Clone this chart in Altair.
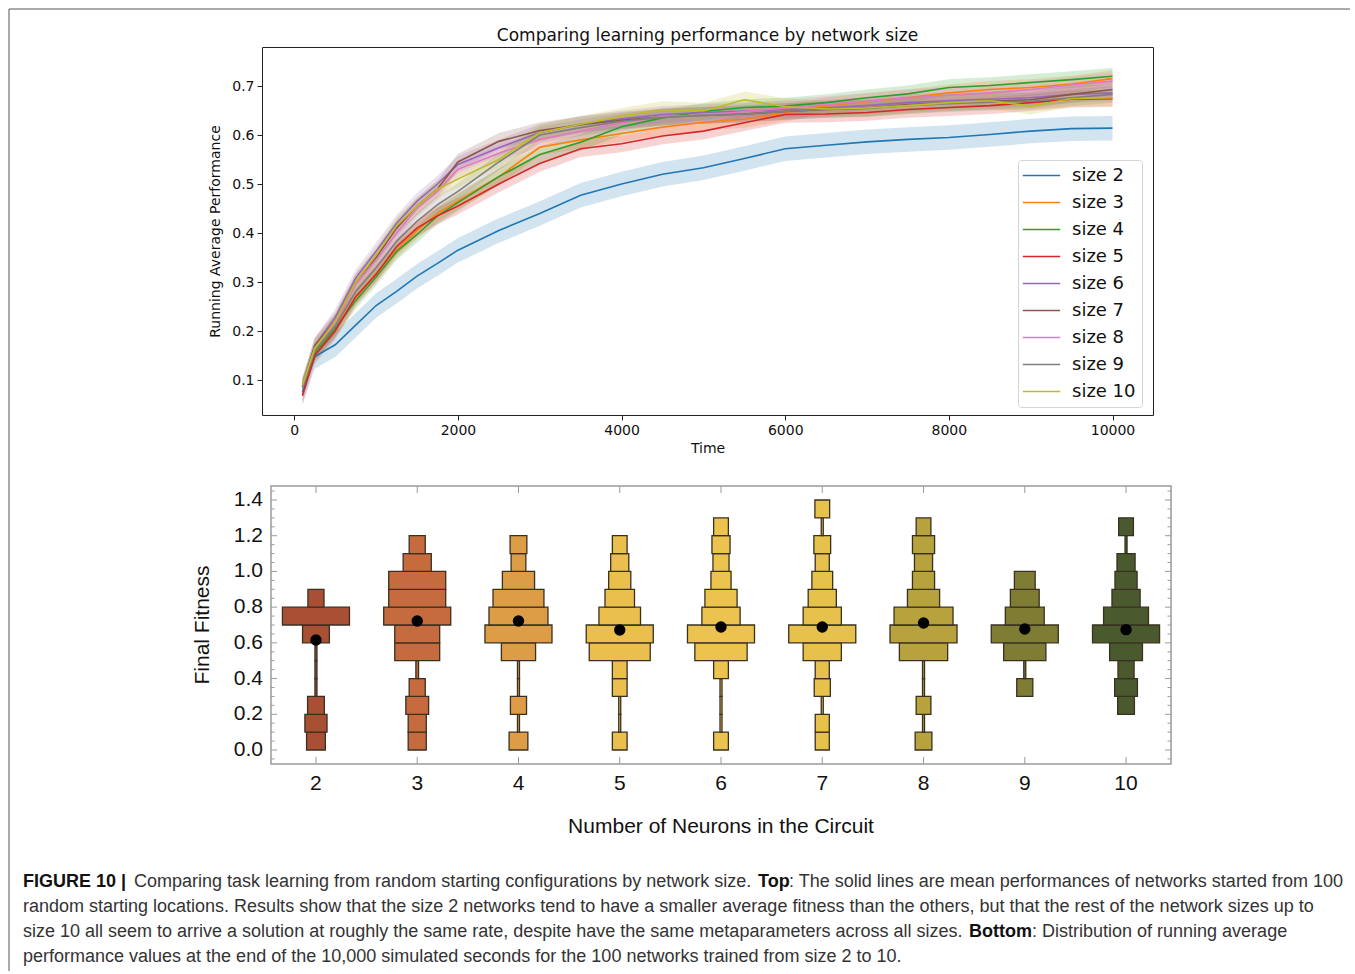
import altair as alt
import pandas as pd

# ---------------------------------------------------------------------------
# Top panel: running average performance (mean of 100 runs) per network size
# ---------------------------------------------------------------------------
times = [100, 250, 500, 750, 1000, 1250, 1500, 1750, 2000, 2500, 3000, 3500,
         4000, 4500, 5000, 5500, 6000, 6500, 7000, 7500, 8000, 8500, 9000, 9500, 10000]

perf_size2 = [0.075, 0.148, 0.172, 0.212, 0.252, 0.281, 0.312, 0.338, 0.365, 0.405, 0.440, 0.477,
              0.500, 0.520, 0.533, 0.552, 0.572, 0.579, 0.586, 0.591, 0.595, 0.601, 0.608, 0.613, 0.614]
perf_size3 = [0.085, 0.158, 0.205, 0.268, 0.318, 0.365, 0.405, 0.440, 0.465, 0.515, 0.575, 0.590,
              0.603, 0.616, 0.626, 0.632, 0.645, 0.660, 0.668, 0.676, 0.686, 0.693, 0.697, 0.704, 0.715]
perf_size4 = [0.085, 0.155, 0.205, 0.262, 0.310, 0.362, 0.397, 0.435, 0.462, 0.515, 0.560, 0.585,
              0.617, 0.635, 0.648, 0.656, 0.659, 0.666, 0.676, 0.684, 0.697, 0.701, 0.707, 0.713, 0.720]
perf_size5 = [0.068, 0.150, 0.200, 0.270, 0.316, 0.372, 0.410, 0.435, 0.455, 0.500, 0.542, 0.572,
              0.582, 0.598, 0.608, 0.625, 0.642, 0.643, 0.646, 0.652, 0.656, 0.660, 0.666, 0.673, 0.674]
perf_size6 = [0.090, 0.170, 0.228, 0.308, 0.363, 0.420, 0.465, 0.500, 0.540, 0.574, 0.605, 0.622,
              0.633, 0.642, 0.646, 0.649, 0.652, 0.655, 0.660, 0.666, 0.670, 0.673, 0.676, 0.683, 0.686]
perf_size7 = [0.085, 0.170, 0.220, 0.300, 0.350, 0.410, 0.455, 0.490, 0.545, 0.587, 0.609, 0.621,
              0.630, 0.637, 0.640, 0.643, 0.648, 0.652, 0.655, 0.662, 0.666, 0.669, 0.672, 0.683, 0.693]
perf_size8 = [0.085, 0.165, 0.215, 0.295, 0.345, 0.400, 0.450, 0.485, 0.530, 0.563, 0.591, 0.608,
              0.625, 0.638, 0.640, 0.648, 0.655, 0.662, 0.669, 0.676, 0.681, 0.686, 0.693, 0.702, 0.710]
perf_size9 = [0.085, 0.160, 0.210, 0.280, 0.329, 0.383, 0.424, 0.458, 0.485, 0.545, 0.600, 0.615,
              0.628, 0.636, 0.640, 0.643, 0.648, 0.652, 0.654, 0.660, 0.664, 0.667, 0.669, 0.676, 0.683]
perf_size10 = [0.090, 0.165, 0.220, 0.300, 0.355, 0.415, 0.455, 0.490, 0.510, 0.550, 0.605, 0.622,
               0.638, 0.652, 0.649, 0.672, 0.658, 0.653, 0.655, 0.660, 0.666, 0.670, 0.659, 0.674, 0.676]

series_names = ["size 2", "size 3", "size 4", "size 5", "size 6",
                "size 7", "size 8", "size 9", "size 10"]
series_values = [perf_size2, perf_size3, perf_size4, perf_size5, perf_size6,
                 perf_size7, perf_size8, perf_size9, perf_size10]
# spread of the runs around each mean curve (half-width of the shaded band)
band_half = [0.025, 0.017, 0.017, 0.017, 0.017, 0.017, 0.017, 0.017, 0.017]

line_colors = ["#1f77b4", "#ff7f0e", "#2ca02c", "#d62728", "#9467bd",
               "#8c564b", "#e377c2", "#7f7f7f", "#bcbd22"]

rows = []
for name, vals, hw in zip(series_names, series_values, band_half):
    for t, v in zip(times, vals):
        rows.append({"series": name, "time": t, "mean": v, "lo": v - hw, "hi": v + hw})
curves = pd.DataFrame(rows)

# ---------------------------------------------------------------------------
# Bottom panel: distribution of final fitness, binned in steps of 0.1
# (relative box width per bin, bins start at 0.0, 0.1, ..., 1.3)
# ---------------------------------------------------------------------------
bin_lows = [0.0, 0.1, 0.2, 0.3, 0.4, 0.5, 0.6, 0.7, 0.8, 0.9, 1.0, 1.1, 1.2, 1.3]
neuron_counts = [2, 3, 4, 5, 6, 7, 8, 9, 10]
bin_width_2 = [0.28, 0.33, 0.25, 0.03, 0.03, 0.03, 0.40, 1.00, 0.24, 0, 0, 0, 0, 0]
bin_width_3 = [0.27, 0.27, 0.34, 0.24, 0.04, 0.67, 0.67, 1.00, 0.85, 0.85, 0.42, 0.24, 0, 0]
bin_width_4 = [0.28, 0.03, 0.24, 0.03, 0.03, 0.51, 1.00, 0.88, 0.76, 0.48, 0.22, 0.25, 0, 0]
bin_width_5 = [0.22, 0.03, 0.03, 0.22, 0.22, 0.91, 1.00, 0.62, 0.44, 0.33, 0.27, 0.22, 0, 0]
bin_width_6 = [0.22, 0.03, 0.03, 0.03, 0.22, 0.78, 1.00, 0.57, 0.48, 0.30, 0.24, 0.27, 0.22, 0]
bin_width_7 = [0.21, 0.21, 0.03, 0.24, 0.21, 0.57, 1.00, 0.57, 0.42, 0.31, 0.21, 0.25, 0.03, 0.22]
bin_width_8 = [0.25, 0.03, 0.22, 0.03, 0.03, 0.72, 1.00, 0.88, 0.48, 0.33, 0.27, 0.33, 0.22, 0]
bin_width_9 = [0, 0, 0, 0.24, 0.03, 0.63, 1.00, 0.58, 0.43, 0.31, 0, 0, 0, 0]
bin_width_10 = [0, 0, 0.25, 0.34, 0.24, 0.49, 1.00, 0.67, 0.42, 0.33, 0.27, 0.03, 0.22, 0]
bin_widths = [bin_width_2, bin_width_3, bin_width_4, bin_width_5, bin_width_6,
              bin_width_7, bin_width_8, bin_width_9, bin_width_10]
mean_fitness = [0.616, 0.722, 0.722, 0.672, 0.689, 0.689, 0.711, 0.678, 0.674]

box_colors = ["#a94f33", "#c56b3d", "#dd9d46", "#eabf4d", "#ecc34f",
              "#e6c14c", "#b8a23e", "#7f7c34", "#4b5a2e"]

HALF = 0.331  # half width (in category units) of the widest box
box_rows = []
for n, widths in zip(neuron_counts, bin_widths):
    for low, w in zip(bin_lows, widths):
        if w > 0:
            box_rows.append({"n": n, "low": low, "high": round(low + 0.1, 2),
                             "x0": n - w * HALF, "x1": n + w * HALF})
boxes = pd.DataFrame(box_rows)
means = pd.DataFrame({"n": neuron_counts, "fitness": mean_fitness})

major_y = [0.0, 0.2, 0.4, 0.6, 0.8, 1.0, 1.2, 1.4]
minor_y = [round(-0.05 + 0.05 * i, 2) for i in range(31)]
minor_y = [v for v in minor_y if round(v * 5, 6) != round(v * 5)]
major_df = pd.DataFrame({"v": major_y, "label": [f"{v:.1f}" for v in major_y]})
minor_df = pd.DataFrame({"v": minor_y})
cat_df = pd.DataFrame({"n": neuron_counts, "label": [str(n) for n in neuron_counts]})
one = pd.DataFrame({"k": [0]})

# ---------------------------------------------------------------------------
# Top panel
# ---------------------------------------------------------------------------
TOP_W, TOP_H = 891, 368
MPL_FONT = "DejaVu Sans"

x_top_scale = alt.Scale(domain=[-395, 10495], nice=False, zero=False)
y_top_scale = alt.Scale(domain=[0.0286, 0.7796], nice=False, zero=False)
x_top_axis = alt.Axis(values=[0, 2000, 4000, 6000, 8000, 10000], format="d", title="Time",
                      domain=False, grid=False, tickSize=5, tickColor="#222", tickWidth=1,
                      labelFont=MPL_FONT, labelFontSize=14, labelColor="#111", labelPadding=3,
                      titleFont=MPL_FONT, titleFontSize=14, titleFontWeight="normal",
                      titleColor="#111", titlePadding=4)
y_top_axis = alt.Axis(values=[0.1, 0.2, 0.3, 0.4, 0.5, 0.6, 0.7], format=".1f",
                      title="Running Average Performance",
                      domain=False, grid=False, tickSize=5, tickColor="#222", tickWidth=1,
                      labelFont=MPL_FONT, labelFontSize=14, labelColor="#111", labelPadding=3,
                      titleFont=MPL_FONT, titleFontSize=14, titleFontWeight="normal",
                      titleColor="#111", titlePadding=9)

bands = alt.Chart(curves).mark_area(opacity=0.2).encode(
    x=alt.X("time:Q", scale=x_top_scale, axis=x_top_axis),
    y=alt.Y("lo:Q", scale=y_top_scale, axis=y_top_axis),
    y2="hi:Q",
    fill=alt.Fill("series:N", scale=alt.Scale(domain=series_names, range=line_colors), legend=None),
)

lines = alt.Chart(curves).mark_line(strokeWidth=1.6).encode(
    x=alt.X("time:Q", scale=x_top_scale, axis=x_top_axis),
    y=alt.Y("mean:Q", scale=y_top_scale, axis=y_top_axis),
    color=alt.Color("series:N", title=None,
                    scale=alt.Scale(domain=series_names, range=line_colors),
                    legend=alt.Legend(orient="none", legendX=756, legendY=113,
                                      direction="vertical", fillColor="white",
                                      strokeColor="#d4d4d4", cornerRadius=3, padding=6,
                                      labelFont=MPL_FONT, labelFontSize=18, labelColor="#111",
                                      symbolType="M-2.2,0H2.2", symbolSize=289,
                                      symbolStrokeWidth=1.6, rowPadding=8,
                                      symbolOffset=8, labelOffset=21)),
)

top = alt.layer(bands, lines).properties(
    width=TOP_W, height=TOP_H,
    title=alt.TitleParams("Comparing learning performance by network size",
                          font=MPL_FONT, fontSize=17, fontWeight="normal",
                          color="#111", offset=2),
    view=alt.ViewBackground(stroke="#222", strokeWidth=1),
)

# ---------------------------------------------------------------------------
# Bottom panel
# ---------------------------------------------------------------------------
BOT_W, BOT_H = 909, 278
PLOT_X0 = 9          # plot frame starts a little right of the top panel's frame
SANS = "Liberation Sans"
FRAME = "#9a9a9a"
INK = "#111"

x_bot_scale = alt.Scale(domain=[1.556, 10.444], range=[PLOT_X0, BOT_W], nice=False, zero=False)
y_bot_scale = alt.Scale(domain=[-0.0784, 1.4784], nice=False, zero=False)

box_layer = alt.Chart(boxes).mark_rect(stroke="#3a3020", strokeWidth=1.3).encode(
    x=alt.X("x0:Q", scale=x_bot_scale, axis=None),
    x2="x1:Q",
    y=alt.Y("low:Q", scale=y_bot_scale, axis=None),
    y2="high:Q",
    fill=alt.Fill("n:N", scale=alt.Scale(domain=neuron_counts, range=box_colors), legend=None),
)

mean_layer = alt.Chart(means).mark_circle(size=130, color="black", opacity=1).encode(
    x=alt.X("n:Q", scale=x_bot_scale, axis=None),
    y=alt.Y("fitness:Q", scale=y_bot_scale, axis=None),
)

frame = alt.Chart(one).mark_rect(fillOpacity=0, stroke=FRAME, strokeWidth=1.5).encode(
    x=alt.value(PLOT_X0), x2=alt.value(BOT_W), y=alt.value(0), y2=alt.value(BOT_H))

# inward ticks on all four sides of the frame
tick_layers = []
for df, length in ((major_df, 6), (minor_df, 3.5)):
    tick_layers.append(alt.Chart(df).mark_rule(color=FRAME, strokeWidth=1).encode(
        y=alt.Y("v:Q", scale=y_bot_scale, axis=None),
        x=alt.value(PLOT_X0), x2=alt.value(PLOT_X0 + length)))
    tick_layers.append(alt.Chart(df).mark_rule(color=FRAME, strokeWidth=1).encode(
        y=alt.Y("v:Q", scale=y_bot_scale, axis=None),
        x=alt.value(BOT_W - length), x2=alt.value(BOT_W)))
for y0, y1 in ((0, 7), (BOT_H - 7, BOT_H)):
    tick_layers.append(alt.Chart(cat_df).mark_rule(color=FRAME, strokeWidth=1).encode(
        x=alt.X("n:Q", scale=x_bot_scale, axis=None),
        y=alt.value(y0), y2=alt.value(y1)))

# tick labels and axis titles
y_labels = alt.Chart(major_df).mark_text(font=SANS, fontSize=21, color=INK, align="right",
                                         baseline="middle").encode(
    y=alt.Y("v:Q", scale=y_bot_scale, axis=None), x=alt.value(PLOT_X0 - 8), text="label:N")
x_labels = alt.Chart(cat_df).mark_text(font=SANS, fontSize=21, color=INK, align="center",
                                       baseline="middle").encode(
    x=alt.X("n:Q", scale=x_bot_scale, axis=None), y=alt.value(BOT_H + 20), text="label:N")
x_title = alt.Chart(one).mark_text(text="Number of Neurons in the Circuit", font=SANS,
                                   fontSize=21, color=INK, align="center",
                                   baseline="middle").encode(
    x=alt.value((PLOT_X0 + BOT_W) / 2), y=alt.value(BOT_H + 63))
y_title = alt.Chart(one).mark_text(text="Final Fitness", font=SANS, fontSize=21, color=INK,
                                   align="center", baseline="middle", angle=270).encode(
    x=alt.value(-59), y=alt.value(BOT_H / 2))

# figure border (left and top edges) and caption, placed relative to this panel
border = [
    alt.Chart(one).mark_rule(color="#555", strokeWidth=1).encode(
        x=alt.value(-253), y=alt.value(-477), y2=alt.value(485)),
    alt.Chart(one).mark_rule(color="#555", strokeWidth=1).encode(
        x=alt.value(-253), x2=alt.value(1088), y=alt.value(-477)),
]

CAP_FONT = "Liberation Sans"
CAP_SIZE = 18
caption_segments = [
    ("FIGURE 10 |", -239, 396, "bold"),
    ("Comparing task learning from random starting configurations by network size.", -128, 396, "normal"),
    ("Top", 496, 396, "bold"),
    (": The solid lines are mean performances of networks started from 100", 527, 396, "normal"),
    ("random starting locations. Results show that the size 2 networks tend to have a smaller "
     "average fitness than the others, but that the rest of the network sizes up to", -239, 421, "normal"),
    ("size 10 all seem to arrive a solution at roughly the same rate, despite have the same "
     "metaparameters across all sizes.", -239, 446, "normal"),
    ("Bottom", 707, 446, "bold"),
    (": Distribution of running average", 770, 446, "normal"),
    ("performance values at the end of the 10,000 simulated seconds for the 100 networks "
     "trained from size 2 to 10.", -239, 471, "normal"),
]
caption = [
    alt.Chart(one).mark_text(text=txt, font=CAP_FONT, fontSize=CAP_SIZE, fontWeight=wt,
                             align="left", baseline="middle",
                             color="#111" if wt == "bold" else "#333").encode(
        x=alt.value(px), y=alt.value(py))
    for txt, px, py, wt in caption_segments
]

bottom = alt.layer(box_layer, *tick_layers, frame, mean_layer, y_labels, x_labels,
                   x_title, y_title, *border, *caption).properties(
    width=BOT_W, height=BOT_H,
    view=alt.ViewBackground(stroke="transparent"),
)

chart = alt.vconcat(top, bottom, spacing=71, bounds="flush").resolve_scale(
    fill="independent",
).properties(
    padding={"left": 8, "top": 8, "right": 1, "bottom": 1},
).configure(background="white")

chart.save("out.html", embed_options={"renderer": "svg", "actions": False})
